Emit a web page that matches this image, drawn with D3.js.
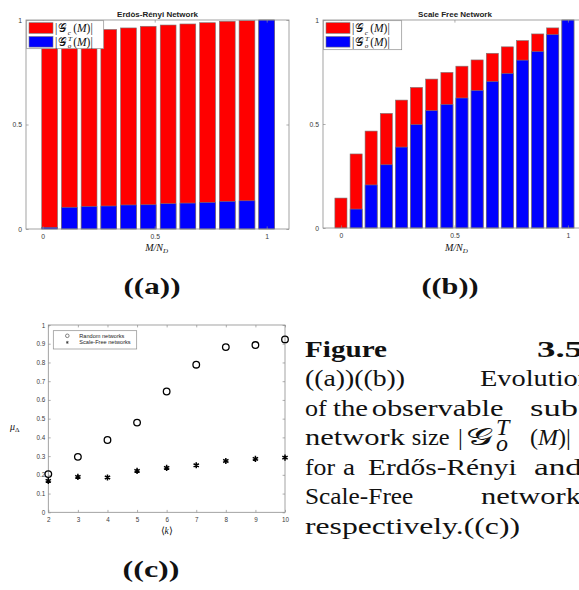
<!DOCTYPE html>
<html>
<head>
<meta charset="utf-8">
<style>
  body { margin: 0; background: #fff; }
  svg { display: block; }
  .tick text { fill: #3a3a3a; font-family: "Liberation Sans", Arial, sans-serif; }
  .tick line { stroke: #8c8c8c; stroke-width: 0.7; }
  .frame { fill: none; stroke: #8c8c8c; stroke-width: 0.8; }
  .ttl { font-family: "Liberation Sans", Arial, sans-serif; font-weight: bold; font-size: 8px; fill: #222; }
  .math { font-family: "Liberation Serif", "Times New Roman", Times, serif; fill: #111; }
  .cap { font-family: "Liberation Serif", "Times New Roman", Times, serif; font-size: 24px; fill: #111; }
</style>
</head>
<body>
<script src="https://d3js.org/d3.v7.min.js"></script>
<script>
// ((a)) Erdos-Renyi network: bar positions, total size |Gc(M)|, observable size |Go^T(M)|
var erX     = [0.031, 0.119, 0.207, 0.295, 0.383, 0.471, 0.560, 0.648, 0.736, 0.824, 0.912, 1.0];
var erTotal = [0.88, 0.92, 0.94, 0.955, 0.962, 0.970, 0.976, 0.981, 0.987, 0.994, 0.997, 1.0];
var erObs   = [0.008, 0.104, 0.108, 0.110, 0.115, 0.116, 0.121, 0.124, 0.127, 0.132, 0.135, 1.0];

// ((b)) Scale free network
var sfX     = [0, 0.067, 0.133, 0.2, 0.267, 0.333, 0.4, 0.467, 0.533, 0.6, 0.667, 0.733, 0.8, 0.867, 0.933, 1.0];
var sfTotal = [0.144, 0.356, 0.466, 0.551, 0.615, 0.676, 0.716, 0.748, 0.778, 0.808, 0.840, 0.871, 0.901, 0.933, 0.962, 1.0];
var sfObs   = [0, 0.091, 0.207, 0.304, 0.389, 0.497, 0.564, 0.594, 0.625, 0.661, 0.704, 0.743, 0.807, 0.848, 0.930, 1.0];

var barXTicks = [0, 0.5, 1];
var barYTicks = [0, 0.5, 1];

// ((c)) mu_Delta vs <k>
var kVals       = [2, 3, 4, 5, 6, 7, 8, 9, 10];
var muRandom    = [0.204, 0.296, 0.386, 0.479, 0.645, 0.788, 0.882, 0.893, 0.923];
var muScaleFree = [0.168, 0.189, 0.186, 0.221, 0.237, 0.251, 0.274, 0.285, 0.292];
var muTicks     = [0, 0.1, 0.2, 0.3, 0.4, 0.5, 0.6, 0.7, 0.8, 0.9, 1];

var svg = d3.select("body").append("svg").attr("width", 579).attr("height", 590);

function fmt(d) { return String(d); }

// box with inward ticks on all four sides
function boxAxes(x, y, xt, yt, fs, padX, padY, tk) {
  var x0 = x.range()[0], x1 = x.range()[1], y0 = y.range()[0], y1 = y.range()[1];
  var g = svg.append("g");
  g.append("g").attr("transform", "translate(0," + y0 + ")")
    .call(d3.axisBottom(x).tickValues(xt).tickSizeInner(-tk).tickSizeOuter(0).tickPadding(padX).tickFormat(fmt))
    .call(function (a) { a.select(".domain").remove(); a.selectAll("text").attr("font-size", fs); });
  g.append("g").attr("transform", "translate(0," + y1 + ")")
    .call(d3.axisTop(x).tickValues(xt).tickSizeInner(-tk).tickSizeOuter(0).tickFormat(""))
    .call(function (a) { a.select(".domain").remove(); });
  g.append("g").attr("transform", "translate(" + x0 + ",0)")
    .call(d3.axisLeft(y).tickValues(yt).tickSizeInner(-tk).tickSizeOuter(0).tickPadding(padY).tickFormat(fmt))
    .call(function (a) { a.select(".domain").remove(); a.selectAll("text").attr("font-size", fs); });
  g.append("g").attr("transform", "translate(" + x1 + ",0)")
    .call(d3.axisRight(y).tickValues(yt).tickSizeInner(-tk).tickSizeOuter(0).tickFormat(""))
    .call(function (a) { a.select(".domain").remove(); });
  g.append("rect").attr("class", "frame")
    .attr("x", x0).attr("y", y1).attr("width", x1 - x0).attr("height", y0 - y1);
}

// |G_sub^sup(M)| built from separate pieces
function gLabel(sel, x, y, fs, sub, sup) {
  var g = sel.append("g").attr("class", "math").attr("font-size", fs);
  g.append("text").attr("x", x).attr("y", y).text("|");
  g.append("text").attr("x", x + fs * 0.3).attr("y", y)
    .attr("textLength", fs * 0.78).attr("lengthAdjust", "spacingAndGlyphs").text("\uD835\uDCA2");
  g.append("text").attr("x", x + fs * 1.1).attr("y", y + fs * 0.24).attr("font-size", fs * 0.62)
    .attr("font-style", "italic").text(sub);
  if (sup) {
    g.append("text").attr("x", x + fs * 1.12).attr("y", y - fs * 0.42).attr("font-size", fs * 0.62)
      .attr("font-style", "italic").text(sup);
  }
  var t = g.append("text").attr("x", x + fs * 1.58).attr("y", y);
  t.append("tspan").text("(");
  t.append("tspan").attr("font-style", "italic").text("M");
  t.append("tspan").text(")|");
}

function barPanel(o) {
  var x = d3.scaleLinear().domain(o.xDom).range([o.left, o.right]);
  var y = d3.scaleLinear().domain([0, 1]).range([o.bottom, o.top]);
  var bw = x(o.barW) - x(0);
  var g = svg.append("g");
  g.selectAll("rect.tot").data(o.xs).join("rect").attr("class", "tot")
    .attr("x", function (d) { return x(d) - bw / 2; })
    .attr("width", bw)
    .attr("y", function (d, i) { return y(o.total[i]); })
    .attr("height", function (d, i) { return y(0) - y(o.total[i]); })
    .attr("fill", "#ff0000").attr("stroke", "#7a7a7a").attr("stroke-width", 0.6);
  g.selectAll("rect.obs").data(o.xs).join("rect").attr("class", "obs")
    .attr("x", function (d) { return x(d) - bw / 2; })
    .attr("width", bw)
    .attr("y", function (d, i) { return y(o.obs[i]); })
    .attr("height", function (d, i) { return y(0) - y(o.obs[i]); })
    .attr("fill", "#0000ff").attr("stroke", "#7a7a7a").attr("stroke-width", 0.6)
    .attr("display", function (d, i) { return o.obs[i] > 0 ? null : "none"; });

  boxAxes(x, y, barXTicks, barYTicks, 6.8, 5, 4, 2.6);

  svg.append("text").attr("class", "ttl")
    .attr("x", (o.left + o.right) / 2).attr("y", o.top - 3)
    .attr("text-anchor", "middle").text(o.title);

  // x label M/N_D
  var xl = svg.append("text").attr("class", "math").attr("font-size", 10)
    .attr("x", x(0.5) + 2).attr("y", 251).attr("text-anchor", "middle").attr("font-style", "italic");
  xl.append("tspan").text("M/N");
  xl.append("tspan").attr("font-size", 7).attr("dy", 2).text("D");

  // legend
  var lg = svg.append("g");
  lg.append("rect").attr("x", o.left + 0.7).attr("y", o.top + 0.7).attr("width", o.legW).attr("height", o.legH)
    .attr("fill", "#fff").attr("stroke", "#8c8c8c").attr("stroke-width", 0.7);
  lg.append("rect").attr("x", o.left + 3).attr("y", o.top + 2.7).attr("width", 24).attr("height", 10.6)
    .attr("fill", "#ff0000").attr("stroke", "#7a7a7a").attr("stroke-width", 0.6);
  lg.append("rect").attr("x", o.left + 3).attr("y", o.top + 16.5).attr("width", 24).attr("height", 10.6)
    .attr("fill", "#0000ff").attr("stroke", "#7a7a7a").attr("stroke-width", 0.6);
  gLabel(lg, o.left + 29, o.top + 12, 11.5, "c", null);
  gLabel(lg, o.left + 29, o.top + 25.5, 11.5, "o", "T");
}

barPanel({ xs: erX, total: erTotal, obs: erObs, xDom: [-0.0746, 1.0996], left: 26, right: 289,
  top: 20, bottom: 229, barW: 0.0706, title: "Erdòs-Rényi Network", legW: 77, legH: 28 });
barPanel({ xs: sfX, total: sfTotal, obs: sfObs, xDom: [-0.079, 1.084], left: 323, right: 587,
  top: 20, bottom: 228, barW: 0.0533, title: "Scale Free Network", legW: 78, legH: 29 });

// ((c)) scatter
var xc = d3.scaleLinear().domain([2, 10]).range([48.3, 285]);
var yc = d3.scaleLinear().domain([0, 1]).range([512.3, 325]);
boxAxes(xc, yc, kVals, muTicks, 6.3, 5, 3, 2.4);

var star = d3.symbol().type(d3.symbolAsterisk).size(26);
svg.append("g").selectAll("path").data(kVals).join("path")
  .attr("transform", function (d, i) { return "translate(" + xc(d) + "," + yc(muScaleFree[i]) + ")"; })
  .attr("d", star).attr("fill", "none").attr("stroke", "#000").attr("stroke-width", 1.5);
svg.append("g").selectAll("circle").data(kVals).join("circle")
  .attr("cx", function (d) { return xc(d); })
  .attr("cy", function (d, i) { return yc(muRandom[i]); })
  .attr("r", 3.3).attr("fill", "none").attr("stroke", "#000").attr("stroke-width", 1.3);

var lc = svg.append("g");
lc.append("rect").attr("x", 53.3).attr("y", 330.7).attr("width", 83.4).attr("height", 18.3)
  .attr("fill", "#fff").attr("stroke", "#8c8c8c").attr("stroke-width", 0.7);
lc.append("circle").attr("cx", 67.3).attr("cy", 335.8).attr("r", 1.8)
  .attr("fill", "none").attr("stroke", "#333").attr("stroke-width", 0.6);
lc.append("path").attr("transform", "translate(67.3,342.4)")
  .attr("d", d3.symbol().type(d3.symbolAsterisk).size(6)).attr("stroke", "#333").attr("stroke-width", 0.7);
lc.append("text").attr("x", 79.3).attr("y", 337.8).attr("font-size", 5.6)
  .attr("font-family", "Liberation Sans, Arial, sans-serif").attr("fill", "#222").text("Random networks");
lc.append("text").attr("x", 79.3).attr("y", 344.4).attr("font-size", 5.6)
  .attr("font-family", "Liberation Sans, Arial, sans-serif").attr("fill", "#222").text("Scale-Free networks");

var yl = svg.append("text").attr("class", "math").attr("font-size", 10).attr("x", 10).attr("y", 430);
yl.append("tspan").attr("font-style", "italic").text("μ");
yl.append("tspan").attr("font-size", 7).attr("dy", 1.8).text("Δ");
svg.append("text").attr("class", "math").attr("font-size", 9.5).attr("x", xc(6)).attr("y", 534)
  .attr("text-anchor", "middle").html("⟨<tspan font-style='italic'>k</tspan>⟩");

// sub-figure labels
[["((a))", 152, 294], ["((b))", 450, 294], ["((c))", 151, 577]].forEach(function (s) {
  svg.append("text").attr("class", "cap").attr("font-weight", "bold").attr("font-size", 26)
    .attr("x", s[1]).attr("y", s[2]).attr("text-anchor", "middle")
    .attr("textLength", 57).attr("lengthAdjust", "spacingAndGlyphs").text(s[0]);
});

// caption (justified, clipped on the right)
var capLines = [
  { y: 356.7, words: [["Figure", 305, 82, true], ["3.5", 537, 46, true]] },
  { y: 386.3, words: [["((a))((b))", 305, 100], ["Evolution", 480, 112]] },
  { y: 415.8, words: [["of", 305, 21.7], ["the", 333, 35], ["observable", 371.7, 131.7], ["sub", 530, 48]] },
  { y: 445.3, words: [["network", 305, 100], ["size", 411.7, 38]] },
  { y: 474.8, words: [["for", 305, 30], ["a", 343, 12], ["Erdős-Rényi", 368, 148.7], ["and", 534, 48]] },
  { y: 504.3, words: [["Scale-Free", 305, 108.3], ["network", 481, 100]] },
  { y: 533.8, words: [["respectively.((c))", 305, 215]] }
];
capLines.forEach(function (ln) {
  ln.words.forEach(function (w) {
    svg.append("text").attr("class", "cap").attr("x", w[1]).attr("y", ln.y)
      .attr("font-weight", w[3] ? "bold" : null)
      .attr("textLength", w[2]).attr("lengthAdjust", "spacingAndGlyphs").text(w[0]);
  });
});
// |G_o^T(M)| in the caption
var cm = svg.append("g");
cm.append("text").attr("class", "cap").attr("x", 458).attr("y", 445.3).text("|");
cm.append("text").attr("class", "math").attr("font-size", 24).attr("x", 466).attr("y", 445.3)
  .attr("textLength", 27).attr("lengthAdjust", "spacingAndGlyphs").text("\uD835\uDCA2");
cm.append("text").attr("class", "cap").attr("font-size", 15).attr("font-style", "italic")
  .attr("x", 496).attr("y", 435).text("T");
cm.append("text").attr("class", "cap").attr("font-size", 15).attr("font-style", "italic")
  .attr("x", 496).attr("y", 451).text("o");
var cmt = cm.append("text").attr("class", "cap").attr("x", 530).attr("y", 445.3);
cmt.append("tspan").text("(");
cmt.append("tspan").attr("font-style", "italic").text("M");
cmt.append("tspan").text(")|");
</script>
</body>
</html>
